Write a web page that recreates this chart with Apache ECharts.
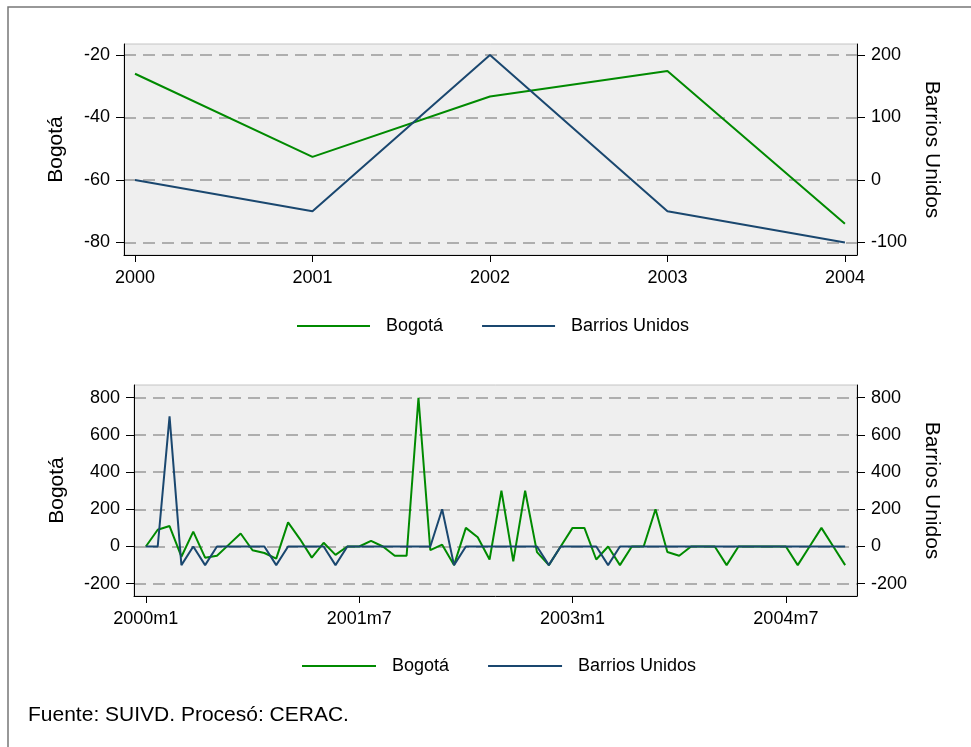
<!DOCTYPE html>
<html>
<head>
<meta charset="utf-8">
<script src="https://cdn.jsdelivr.net/npm/echarts@6/dist/echarts.min.js"></script>
<style>
  html, body { margin: 0; padding: 0; background: #fff; }
  #chart { width: 971px; height: 747px; }
</style>
</head>
<body>
<div id="chart"></div>
<script>
  // panel 1: yearly values
  const years = [2000, 2001, 2002, 2003, 2004];
  const bogotaAnual = [-26, -52.6, -33.3, -25.1, -74];
  const barriosAnual = [0, -50, 200, -50, -100];

  // panel 2: monthly values, 2000m1 .. 2004m12
  const bogotaMensual = [
    0, 90, 110, -55, 80, -60, -50, 10, 70, -20, -35, -65,
    130, 40, -60, 20, -45, 0, 0, 30, 0, -50, -50, 800,
    -20, 10, -100, 100, 50, -70, 300, -80, 300, -30, -100, 0,
    100, 100, -70, 0, -100, 0, 0, 200, -30, -50, 0, 0,
    0, -100, 0, 0, 0, 0, 0, -100, 0, 100, 0, -100
  ];
  const barriosMensual = [
    0, 0, 700, -100, 0, -100, 0, 0, 0, 0, 0, -100,
    0, 0, 0, 0, -100, 0, 0, 0, 0, 0, 0, 0,
    0, 200, -100, 0, 0, 0, 0, 0, 0, 0, -100, 0,
    0, 0, 0, -100, 0, 0, 0, 0, 0, 0, 0, 0,
    0, 0, 0, 0, 0, 0, 0, 0, 0, 0, 0, 0
  ];
  const mesTicks = [0, 18, 36, 54];
  const mesLabels = ['2000m1', '2001m7', '2003m1', '2004m7'];

  const yTicksTop = [-80, -60, -40, -20];
  const yTicksTopRight = [-100, 0, 100, 200];
  const yTicksBottom = [-200, 0, 200, 400, 600, 800];

  const verde = '#008a00';
  const azul = '#1a476f';
  const fuente = 'Liberation Sans, Arial, sans-serif';

  let chart = echarts.init(document.getElementById('chart'));

  function yAxis(opt){
    return Object.assign({
      type: 'value',
      axisLine: { show: true, onZero: false, lineStyle: { color: '#000', width: 1 } },
      axisTick: { show: true, length: 8, lineStyle: { color: '#000' }, customValues: opt.ticks },
      axisLabel: { margin: 14, color: '#000', fontSize: 18, fontFamily: fuente, customValues: opt.ticks,
        formatter: v => String(v) },
      splitLine: { show: false },
      nameLocation: 'middle',
      nameTextStyle: { color: '#000', fontSize: 21, fontFamily: fuente }
    }, opt.extra);
  }

  function xAxis(opt){
    return Object.assign({
      type: 'value',
      axisLine: { show: true, onZero: false, lineStyle: { color: '#000' } },
      axisTick: { show: true, length: 7, lineStyle: { color: '#000' }, customValues: opt.ticks },
      axisLabel: { margin: 14, color: '#000', fontSize: 18, customValues: opt.ticks, formatter: opt.fmt },
      splitLine: { show: false }
    }, opt.extra);
  }

  const gridLine = { show: true, lineStyle: { color: '#999', width: 1.5, type: [12, 7] } };

  let option = {
    animation: false,
    backgroundColor: '#fff',
    textStyle: { fontFamily: fuente },
    grid: [
      { left: 124, right: 114, top: 44, height: 211, show: true, backgroundColor: '#efefef',
        borderColor: '#c4c4c4', borderWidth: 1 },
      { left: 134, right: 114, top: 385, height: 211, show: true, backgroundColor: '#efefef',
        borderColor: '#c4c4c4', borderWidth: 1 }
    ],
    xAxis: [
      xAxis({ ticks: years, fmt: v => String(v),
        extra: { gridIndex: 0, min: 1999.938, max: 2004.068 } }),
      xAxis({ ticks: mesTicks, fmt: v => mesLabels[mesTicks.indexOf(v)] || '',
        extra: { gridIndex: 1, min: -1, max: 60 } })
    ],
    yAxis: [
      yAxis({ ticks: yTicksTop, extra: { gridIndex: 0, position: 'left', min: -84, max: -16.48,
        name: 'Bogotá', nameGap: 57, splitLine: gridLine } }),
      yAxis({ ticks: yTicksTopRight, extra: { gridIndex: 0, position: 'right', min: -120, max: 217.6,
        name: 'Barrios Unidos', nameGap: 64, nameRotate: -90 } }),
      yAxis({ ticks: yTicksBottom, extra: { gridIndex: 1, position: 'left', min: -266.2, max: 868.4,
        name: 'Bogotá', nameGap: 66, splitLine: gridLine } }),
      yAxis({ ticks: yTicksBottom, extra: { gridIndex: 1, position: 'right', min: -266.2, max: 868.4,
        name: 'Barrios Unidos', nameGap: 64, nameRotate: -90 } })
    ],
    legend: [
      { left: 292, top: 312, itemWidth: 73, itemHeight: 2, itemGap: 39, icon: 'rect',
        textStyle: { fontSize: 18, color: '#000', padding: [0, 0, 0, 11] },
        data: ['Bogotá', 'Barrios Unidos'] },
      { left: 297, top: 652, itemWidth: 74, itemHeight: 2, itemGap: 39, icon: 'rect',
        textStyle: { fontSize: 18, color: '#000', padding: [0, 0, 0, 11] },
        data: ['Bogotá', 'Barrios Unidos'] }
    ],
    graphic: [
      { type: 'rect', shape: { x: 8, y: 7, width: 1000, height: 800 },
        style: { fill: 'none', stroke: '#777', lineWidth: 1.5 }, silent: true },
      { type: 'text', left: 28, top: 705,
        style: { text: 'Fuente: SUIVD. Procesó: CERAC.', fontSize: 21, fontFamily: fuente, fill: '#000' } }
    ],
    series: [
      { name: 'Bogotá', type: 'line', xAxisIndex: 0, yAxisIndex: 0, symbol: 'none',
        lineStyle: { color: verde, width: 2 }, itemStyle: { color: verde },
        data: years.map((y, i) => [y, bogotaAnual[i]]) },
      { name: 'Barrios Unidos', type: 'line', xAxisIndex: 0, yAxisIndex: 1, symbol: 'none',
        lineStyle: { color: azul, width: 2 }, itemStyle: { color: azul },
        data: years.map((y, i) => [y, barriosAnual[i]]) },
      { name: 'Bogotá', type: 'line', xAxisIndex: 1, yAxisIndex: 2, symbol: 'none',
        lineStyle: { color: verde, width: 2 }, itemStyle: { color: verde },
        data: bogotaMensual.map((v, i) => [i, v]) },
      { name: 'Barrios Unidos', type: 'line', xAxisIndex: 1, yAxisIndex: 3, symbol: 'none',
        lineStyle: { color: azul, width: 2 }, itemStyle: { color: azul },
        data: barriosMensual.map((v, i) => [i, v]) }
    ]
  };
  option && chart.setOption(option);
</script>
</body>
</html>
